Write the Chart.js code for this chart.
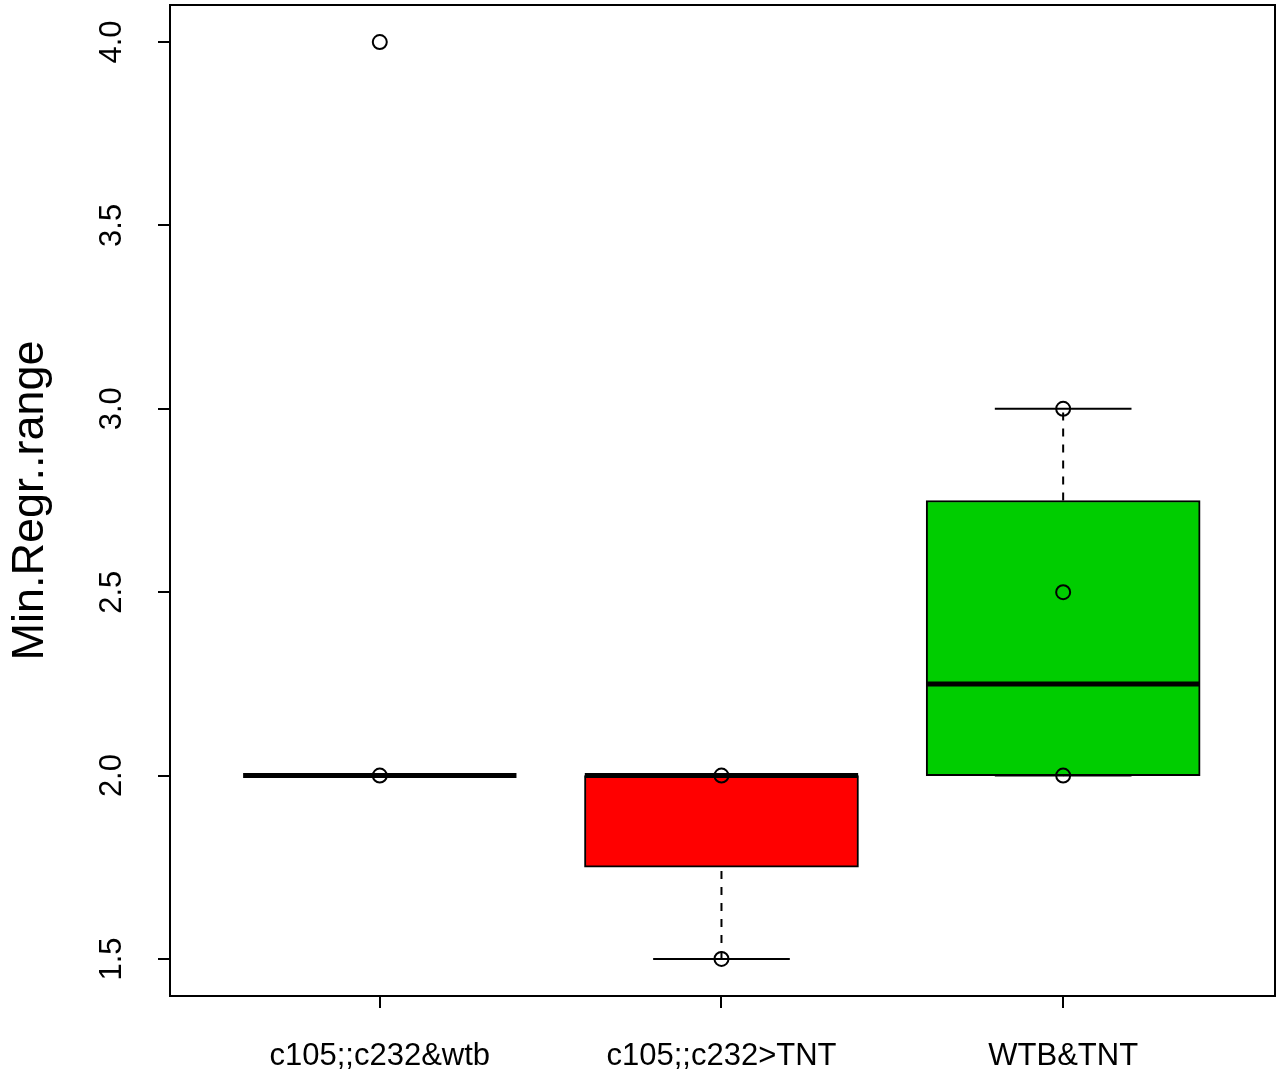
<!DOCTYPE html>
<html>
<head>
<meta charset="utf-8">
<script src="https://cdn.jsdelivr.net/npm/chart.js@4/dist/chart.umd.min.js"></script>
<style>
  html, body { margin: 0; padding: 0; background: #fff; }
  #wrap { width: 1279px; height: 1083px; }
</style>
</head>
<body>
<div id="wrap"><canvas id="boxChart"></canvas></div>
<script>
// groups and box stats
var groups = ["c105;;c232&wtb", "c105;;c232>TNT", "WTB&TNT"];
var boxColors = ["#FFFFFF", "#FF0000", "#00CD00"];
var lowWhisker = [2.0, 1.5, 2.0];
var q1 = [2.0, 1.75, 2.0];
var median = [2.0, 2.0, 2.25];
var q3 = [2.0, 2.0, 2.75];
var highWhisker = [2.0, 2.0, 3.0];
// observations drawn as open circles (x = group number)
var pointGroup = [1, 1, 2, 2, 3, 3, 3];
var pointValue = [4.0, 2.0, 2.0, 1.5, 3.0, 2.5, 2.0];
var yTicks = [1.5, 2.0, 2.5, 3.0, 3.5, 4.0];

var boxHalf = 0.4;
var capHalf = 0.2;

var datasets = [];

datasets.push({
  type: "bar",
  order: 3,
  data: groups.map(function (g, i) { return { x: i + 1, y: [q1[i], q3[i]] }; }),
  backgroundColor: boxColors,
  borderColor: "#000",
  borderWidth: 2,
  borderSkipped: false,
  barThickness: 274
});

for (var i = 0; i < groups.length; i++) {
  var x = i + 1;
  // lower whisker
  datasets.push({
    type: "line", order: 2,
    data: [{ x: x, y: lowWhisker[i] }, { x: x, y: q1[i] }],
    borderColor: "#000", borderWidth: 2, borderDash: [8, 8], pointRadius: 0
  });
  // upper whisker
  datasets.push({
    type: "line", order: 2,
    data: [{ x: x, y: q3[i] }, { x: x, y: highWhisker[i] }],
    borderColor: "#000", borderWidth: 2, borderDash: [8, 8], pointRadius: 0
  });
  // caps
  datasets.push({
    type: "line", order: 2,
    data: [{ x: x - capHalf, y: lowWhisker[i] }, { x: x + capHalf, y: lowWhisker[i] }],
    borderColor: "#000", borderWidth: 2, pointRadius: 0
  });
  datasets.push({
    type: "line", order: 2,
    data: [{ x: x - capHalf, y: highWhisker[i] }, { x: x + capHalf, y: highWhisker[i] }],
    borderColor: "#000", borderWidth: 2, pointRadius: 0
  });
  // median
  datasets.push({
    type: "line", order: 1,
    data: [{ x: x - boxHalf, y: median[i] }, { x: x + boxHalf, y: median[i] }],
    borderColor: "#000", borderWidth: 5, borderCapStyle: "butt", pointRadius: 0
  });
}

datasets.push({
  type: "scatter",
  order: 0,
  data: pointGroup.map(function (g, i) { return { x: g, y: pointValue[i] }; }),
  pointRadius: 7,
  pointBorderWidth: 2,
  pointBorderColor: "#000",
  pointBackgroundColor: "rgba(0,0,0,0)"
});

var frame = {
  id: "frame",
  afterDatasetsDraw: function (chart) {
    var a = chart.chartArea;
    var ctx = chart.ctx;
    ctx.save();
    ctx.strokeStyle = "#000";
    ctx.lineWidth = 2;
    ctx.strokeRect(a.left, a.top, a.right - a.left, a.bottom - a.top);
    ctx.restore();
  }
};

new Chart("boxChart", {
  type: "bar",
  data: { datasets: datasets },
  options: {
    responsive: true,
    maintainAspectRatio: false,
    animation: false,
    layout: { autoPadding: false, padding: { left: 0, top: 5, right: 4, bottom: 0 } },
    plugins: { legend: { display: false }, tooltip: { enabled: false } },
    scales: {
      x: {
        type: "linear",
        min: 0.386,
        max: 3.62,
        offset: false,
        afterBuildTicks: function (s) { s.ticks = groups.map(function (g, i) { return { value: i + 1 }; }); },
        afterFit: function (s) { s.height = 87; s.paddingLeft = 0; s.paddingRight = 0; },
        grid: { display: true, offset: false, drawOnChartArea: false, drawTicks: true, tickLength: 12, color: "#000", lineWidth: 2 },
        border: { display: true, color: "#000", width: 2 },
        ticks: {
          color: "#000",
          font: { family: "Liberation Sans", size: 31 },
          padding: 30,
          maxRotation: 0,
          autoSkip: false,
          callback: function (v) { return groups[v - 1]; }
        }
      },
      y: {
        type: "linear",
        min: 1.399,
        max: 4.101,
        afterBuildTicks: function (s) { s.ticks = yTicks.map(function (v) { return { value: v }; }); },
        afterFit: function (s) { s.width = 170; s.paddingTop = 0; s.paddingBottom = 0; },
        grid: { display: true, drawOnChartArea: false, drawTicks: true, tickLength: 12, color: "#000", lineWidth: 2 },
        border: { display: true, color: "#000", width: 2 },
        title: {
          display: true,
          text: "Min.Regr..range",
          color: "#000",
          font: { family: "Liberation Sans", size: 45, lineHeight: 1.2 },
          padding: { top: 4, bottom: 0 }
        },
        ticks: {
          color: "#000",
          font: { family: "Liberation Sans", size: 31 },
          padding: 24,
          minRotation: 90,
          maxRotation: 90,
          crossAlign: "center",
          autoSkip: false,
          callback: function (v) { return v.toFixed(1); }
        }
      }
    }
  },
  plugins: [frame]
});
</script>
</body>
</html>
